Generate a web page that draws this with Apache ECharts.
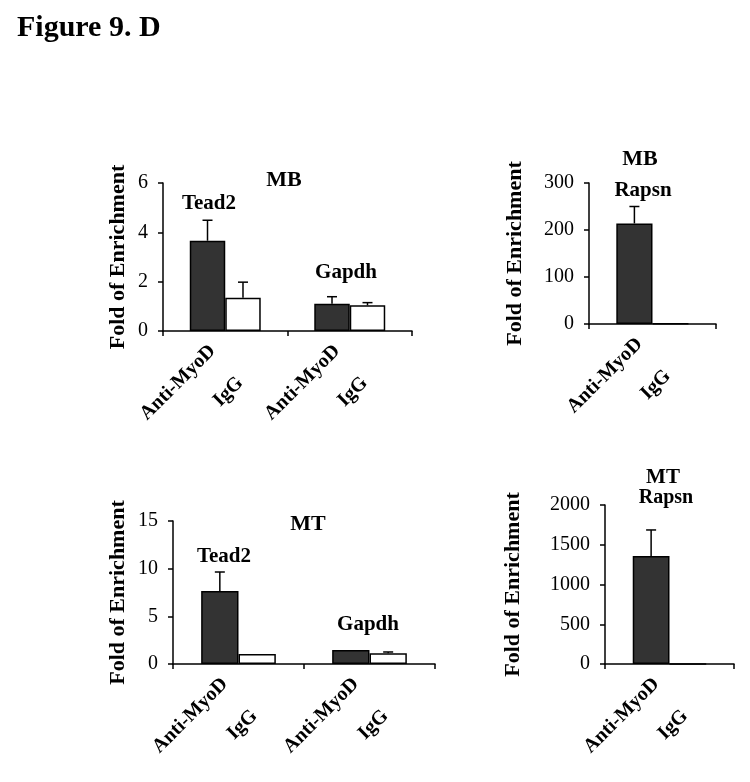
<!DOCTYPE html>
<html>
<head>
<meta charset="utf-8">
<script src="https://cdn.jsdelivr.net/npm/echarts@6/dist/echarts.min.js"></script>
<style>
html,body{margin:0;padding:0;background:#fff;}
#chart{width:750px;height:782px;}
</style>
</head>
<body>
<div id="chart"></div>
<script>
// ---- data ----
const seriesNames = ['Anti-MyoD', 'IgG'];
const geneCats = ['Tead2', 'Gapdh'];
const rapsnCat = ['Rapsn'];

const mbAnti = [3.66, 1.10];
const mbAntiErr = [0.83, 0.29];
const mbIgG = [1.35, 1.04];
const mbIgGErr = [0.63, 0.11];

const mbRapsnAnti = [214];
const mbRapsnAntiErr = [36];
const mbRapsnIgG = [1];
const mbRapsnIgGErr = [0];

const mtAnti = [7.66, 1.47];
const mtAntiErr = [1.99, 0];
const mtIgG = [1.05, 1.12];
const mtIgGErr = [0, 0.14];

const mtRapsnAnti = [1360];
const mtRapsnAntiErr = [326];
const mtRapsnIgG = [1];
const mtRapsnIgGErr = [0];

const yMaxes = [6, 300, 15, 2000];
const yIntervals = [2, 100, 5, 500];
const panelTitles = ['MB', 'MB', 'MT', 'MT'];
const yName = 'Fold of Enrichment';
const figTitle = 'Figure 9. D';

// ---- styles / layout ----
const SERIF = '"Liberation Serif", "Times New Roman", serif';
const BAR_FRAC = 0.285;
const grids = [
  {left: 163, top: 183, width: 249, height: 148},
  {left: 589, top: 183, width: 127, height: 141},
  {left: 173, top: 521, width: 262, height: 143},
  {left: 605, top: 505, width: 129, height: 159}
];
const nameGaps = [34, 63, 44, 81];

const panels = [
  {cats: geneCats, a: mbAnti, ae: mbAntiErr, g: mbIgG, ge: mbIgGErr},
  {cats: rapsnCat, a: mbRapsnAnti, ae: mbRapsnAntiErr, g: mbRapsnIgG, ge: mbRapsnIgGErr},
  {cats: geneCats, a: mtAnti, ae: mtAntiErr, g: mtIgG, ge: mtIgGErr},
  {cats: rapsnCat, a: mtRapsnAnti, ae: mtRapsnAntiErr, g: mtRapsnIgG, ge: mtRapsnIgGErr}
];

function overlay(side, label, dx, dy) {
  return function (params, api) {
    const idx = api.value(0), v = api.value(1), e = api.value(2);
    const base = api.coord([idx, 0]);
    const top = api.coord([idx, v]);
    const band = api.size([1, 0])[0];
    const bw = band * BAR_FRAC;
    const cx = base[0] + side * bw / 2;
    const children = [];
    if (e > 0) {
      const et = api.coord([idx, v + e]);
      children.push({type: 'line', shape: {x1: cx, y1: top[1], x2: cx, y2: et[1]},
        style: {stroke: '#000', lineWidth: 1.5}});
      children.push({type: 'line', shape: {x1: cx - 5, y1: et[1], x2: cx + 5, y2: et[1]},
        style: {stroke: '#000', lineWidth: 1.5}});
    }
    children.push({type: 'text', x: cx + dx, y: base[1] + dy, rotation: Math.PI / 4,
      style: {text: label, font: 'bold 20px ' + SERIF, fill: '#000', align: 'right', verticalAlign: 'top'}});
    return {type: 'group', children: children};
  };
}

const xAxes = [], yAxes = [], series = [];
panels.forEach(function (p, i) {
  xAxes.push({
    gridIndex: i, type: 'category', data: p.cats,
    axisLine: {show: true, lineStyle: {color: '#000', width: 1.5}},
    axisTick: {show: true, length: 5, lineStyle: {color: '#000', width: 1.5}},
    axisLabel: {show: false}, splitLine: {show: false}
  });
  yAxes.push({
    gridIndex: i, type: 'value', min: 0, max: yMaxes[i], interval: yIntervals[i],
    axisLine: {show: true, lineStyle: {color: '#000', width: 1.5}},
    axisTick: {show: true, length: 5, lineStyle: {color: '#000', width: 1.5}},
    axisLabel: {fontFamily: SERIF, fontSize: 20, color: '#000', margin: 15,
      formatter: function (v) { return String(v); }},
    splitLine: {show: false},
    name: yName, nameLocation: 'middle', nameGap: nameGaps[i],
    nameTextStyle: {fontFamily: SERIF, fontWeight: 'bold', fontSize: 22, color: '#000'}
  });
  series.push({
    type: 'bar', name: seriesNames[0], xAxisIndex: i, yAxisIndex: i, data: p.a,
    barWidth: (BAR_FRAC * 100) + '%', barGap: '0%',
    itemStyle: {color: '#333333', borderColor: '#000', borderWidth: 1.5}, silent: true
  });
  series.push({
    type: 'bar', name: seriesNames[1], xAxisIndex: i, yAxisIndex: i, data: p.g,
    barWidth: (BAR_FRAC * 100) + '%', barGap: '0%',
    itemStyle: {color: '#ffffff', borderColor: '#000', borderWidth: 1.5}, silent: true
  });
  series.push({
    type: 'custom', xAxisIndex: i, yAxisIndex: i, z: 5, silent: true,
    renderItem: overlay(-1, seriesNames[0], -2, 10),
    data: p.a.map(function (v, k) { return [k, v, p.ae[k]]; })
  });
  series.push({
    type: 'custom', xAxisIndex: i, yAxisIndex: i, z: 5, silent: true,
    renderItem: overlay(1, seriesNames[1], -10, 42),
    data: p.g.map(function (v, k) { return [k, v, p.ge[k]]; })
  });
});

function txt(x, y, s, size, align) {
  return {type: 'text', x: x, y: y, silent: true,
    style: {text: s, font: 'bold ' + size + 'px ' + SERIF, fill: '#000',
      align: align || 'center', verticalAlign: 'middle'}};
}

const graphics = [
  txt(17, 28, figTitle, 30, 'left'),
  txt(284, 180, panelTitles[0], 22),
  txt(209, 204, geneCats[0], 21),
  txt(346, 273, geneCats[1], 21),
  txt(640, 159, panelTitles[1], 22),
  txt(643, 191, rapsnCat[0], 21),
  txt(308, 524, panelTitles[2], 22),
  txt(224, 557, geneCats[0], 21),
  txt(368, 625, geneCats[1], 21),
  txt(663, 478, panelTitles[3], 21),
  txt(666, 498, rapsnCat[0], 20)
];

const chart = echarts.init(document.getElementById('chart'), null, {renderer: 'canvas'});
chart.setOption({
  animation: false,
  backgroundColor: '#fff',
  grid: grids.map(function (g) { return Object.assign({containLabel: false, outerBoundsMode: 'none'}, g); }),
  xAxis: xAxes,
  yAxis: yAxes,
  series: series,
  graphic: graphics
});
</script>
</body>
</html>
